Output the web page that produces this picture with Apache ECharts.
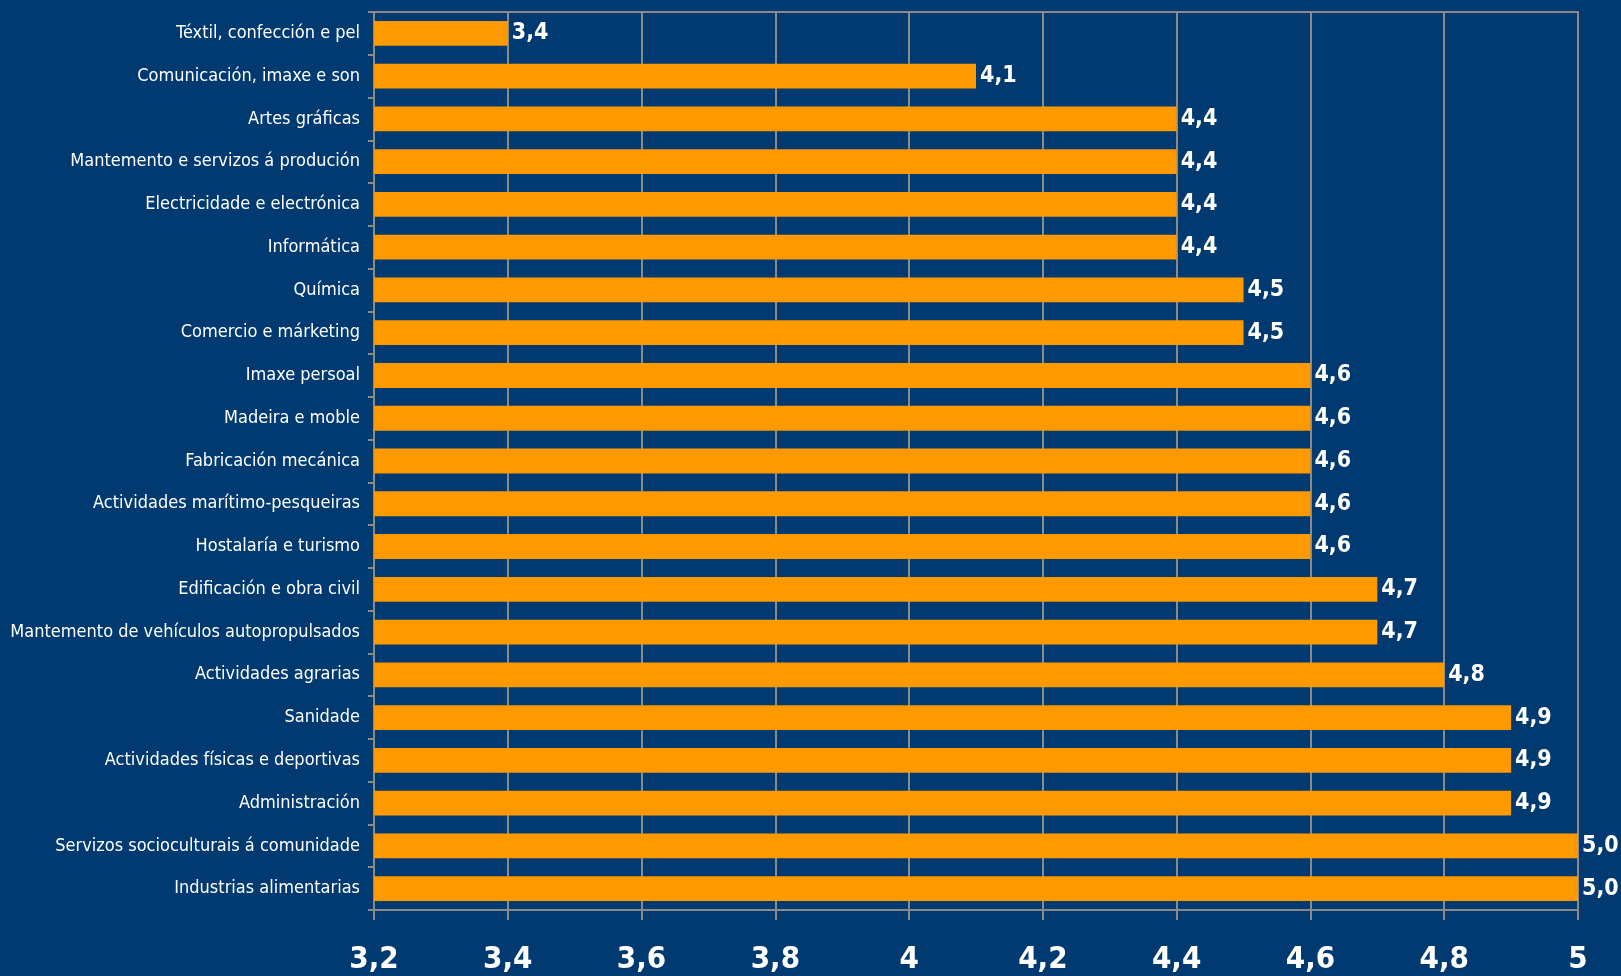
<!DOCTYPE html>
<html>
	<head>
		<meta charset="UTF-8">
		<title>Familias profesionais</title>
		<script type="text/javascript" src="https://cdn.jsdelivr.net/npm/echarts@6/dist/echarts.min.js"></script>
		<style>
			html, body { margin: 0; padding: 0; background: #003a70; }
			#chart { width: 1621px; height: 976px; }
		</style>
	</head>
	<body>
		<div id="chart"></div>
		<script>
		// categorías, de arriba abaixo
		var categories = [
			'Téxtil, confección e pel',
			'Comunicación, imaxe e son',
			'Artes gráficas',
			'Mantemento e servizos á produción',
			'Electricidade e electrónica',
			'Informática',
			'Química',
			'Comercio e márketing',
			'Imaxe persoal',
			'Madeira e moble',
			'Fabricación mecánica',
			'Actividades marítimo-pesqueiras',
			'Hostalaría e turismo',
			'Edificación e obra civil',
			'Mantemento de vehículos autopropulsados',
			'Actividades agrarias',
			'Sanidade',
			'Actividades físicas e deportivas',
			'Administración',
			'Servizos socioculturais á comunidade',
			'Industrias alimentarias'
		];
		var values = [3.4, 4.1, 4.4, 4.4, 4.4, 4.4, 4.5, 4.5, 4.6, 4.6, 4.6, 4.6, 4.6, 4.7, 4.7, 4.8, 4.9, 4.9, 4.9, 5.0, 5.0];
		var xTicks = [3.2, 3.4, 3.6, 3.8, 4, 4.2, 4.4, 4.6, 4.8, 5];

		var narrow = '"Liberation Sans Narrow", "DejaVu Sans Condensed", "Liberation Sans", sans-serif';

		var myChart = echarts.init(document.getElementById('chart'));
		var option = {
			animation: false,
			backgroundColor: '#003a70',
			grid: {
				left: 374,
				right: 43,
				top: 12,
				bottom: 66,
				show: true,
				borderColor: '#8a8a8a',
				borderWidth: 2
			},
			xAxis: {
				type: 'value',
				min: xTicks[0],
				max: xTicks[xTicks.length - 1],
				interval: 0.2,
				axisLine: { show: true, lineStyle: { color: '#8a8a8a', width: 2 } },
				axisTick: { show: true, length: 10, lineStyle: { color: '#8a8a8a', width: 2 } },
				splitLine: { show: true, lineStyle: { color: '#8a8a8a', width: 2 } },
				axisLabel: {
					color: '#ffffff',
					fontFamily: narrow,
					fontWeight: 'bold',
					fontSize: 31,
					margin: 34,
					formatter: function (v) {
						var s = String(Math.round(v * 10) / 10);
						return s.replace('.', ',');
					}
				}
			},
			yAxis: {
				type: 'category',
				inverse: true,
				data: categories,
				axisLine: { show: true, lineStyle: { color: '#8a8a8a', width: 2 } },
				axisTick: { show: true, length: 6, lineStyle: { color: '#8a8a8a', width: 2 } },
				axisLabel: {
					color: '#ffffff',
					fontFamily: narrow,
					fontSize: 18,
					margin: 14
				}
			},
			series: [{
				type: 'bar',
				data: values,
				barCategoryGap: '42%',
				itemStyle: { color: '#ff9900' },
				label: {
					show: true,
					position: 'right',
					distance: 4,
					color: '#ffffff',
					fontFamily: narrow,
					fontWeight: 'bold',
					fontSize: 23,
					formatter: function (p) {
						return p.value.toFixed(1).replace('.', ',');
					}
				}
			}]
		};
		myChart.setOption(option);
		</script>
	</body>
</html>
